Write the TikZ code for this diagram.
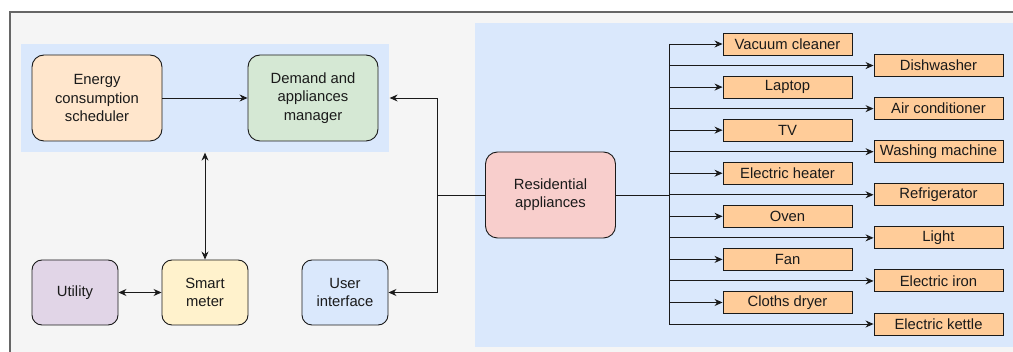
\documentclass[tikz,border=0pt]{standalone}
\usepackage{fontspec}
\setmainfont{Liberation Sans}
\usetikzlibrary{arrows.meta,fit,backgrounds}
\definecolor{framefill}{HTML}{F5F5F5}
\definecolor{frameline}{HTML}{666666}
\definecolor{panelblue}{HTML}{DAE8FC}
\definecolor{energyfill}{HTML}{FFE6CC}
\definecolor{demandfill}{HTML}{D5E8D4}
\definecolor{utilfill}{HTML}{E1D5E7}
\definecolor{meterfill}{HTML}{FFF2CC}
\definecolor{residfill}{HTML}{F8CECC}
\definecolor{applfill}{HTML}{FFCC99}
\definecolor{ink}{HTML}{1A1A1A}

\begin{document}
\begin{tikzpicture}[x=1pt,y=-1pt,
    box/.style={draw=ink,line width=0.9pt,fill=white,align=center,inner sep=0pt,
      text=ink,font=\fontsize{14.8}{18.3}\selectfont},
    bigbox/.style={box,rounded corners=12pt,minimum width=130pt,minimum height=86pt},
    smallbox/.style={box,rounded corners=10pt,minimum width=86pt,minimum height=65pt},
    applbox/.style={draw=ink,line width=0.9pt,fill=applfill,inner sep=0pt,text=ink,
      minimum width=129pt,minimum height=22pt,font=\fontsize{14.8}{17}\selectfont},
    link/.style={draw=ink,line width=0.9pt,-{Stealth[length=8pt,width=7pt]}},
    dlink/.style={draw=ink,line width=0.9pt,{Stealth[length=8pt,width=7pt]}-{Stealth[length=8pt,width=7pt]}},
    wire/.style={draw=ink,line width=0.9pt}]
  \useasboundingbox (0,0) rectangle (1013,352);

  % control side
  \node[bigbox,fill=energyfill] (energy) at (97,98) {Energy\\consumption\\scheduler};
  \node[bigbox,fill=demandfill] (demand) at (313,98) {Demand and\\appliances\\manager};
  \node[smallbox,fill=utilfill] (utility) at (75,292.5) {Utility};
  \node[smallbox,fill=meterfill] (meter) at (205,292.5) {Smart\\meter};
  \node[smallbox,fill=panelblue] (ui) at (345,292.5) {User\\interface};

  % home side
  \node[bigbox,fill=residfill] (resid) at (550.5,195) {Residential\\appliances};
  \coordinate (split) at (437,195);
  \coordinate (bus) at (669,195);

  \begin{scope}[on background layer]
    \draw[fill=framefill,draw=frameline,line width=1.3pt] (10,12) rectangle (1040,380);
    \node[fit=(energy)(demand),inner sep=11pt,fill=panelblue] (ctrlpanel) {};
    \fill[panelblue] (475,23) rectangle (1040,347);
  \end{scope}

  \draw[link] (energy) -- (demand);
  \draw[dlink] (ctrlpanel.south -| meter.north) -- (meter.north);
  \draw[dlink] (utility) -- (meter);
  \draw[wire] (resid.west) -- (split);
  \draw[link] (split) |- (ctrlpanel.east |- demand.east);
  \draw[link] (split) |- (ui.east);
  \draw[wire] (resid.east) -- (bus);

  \foreach \lbl [count=\i] in {Vacuum cleaner,Dishwasher,Laptop,Air conditioner,TV,
      Washing machine,Electric heater,Refrigerator,Oven,Light,Fan,Electric iron,
      Cloths dryer,Electric kettle}{
    \pgfmathsetmacro\ax{isodd(\i)?787.5:938.5}
    \pgfmathsetmacro\ay{44+(\i-1)*21.54}
    \node[applbox] (app\i) at (\ax,\ay) {\lbl};
    \draw[link] (bus |- app\i.west) -- (app\i.west);
  }
  \draw[wire] (bus |- app1.west) -- (bus |- app14.west);
\end{tikzpicture}
\end{document}
